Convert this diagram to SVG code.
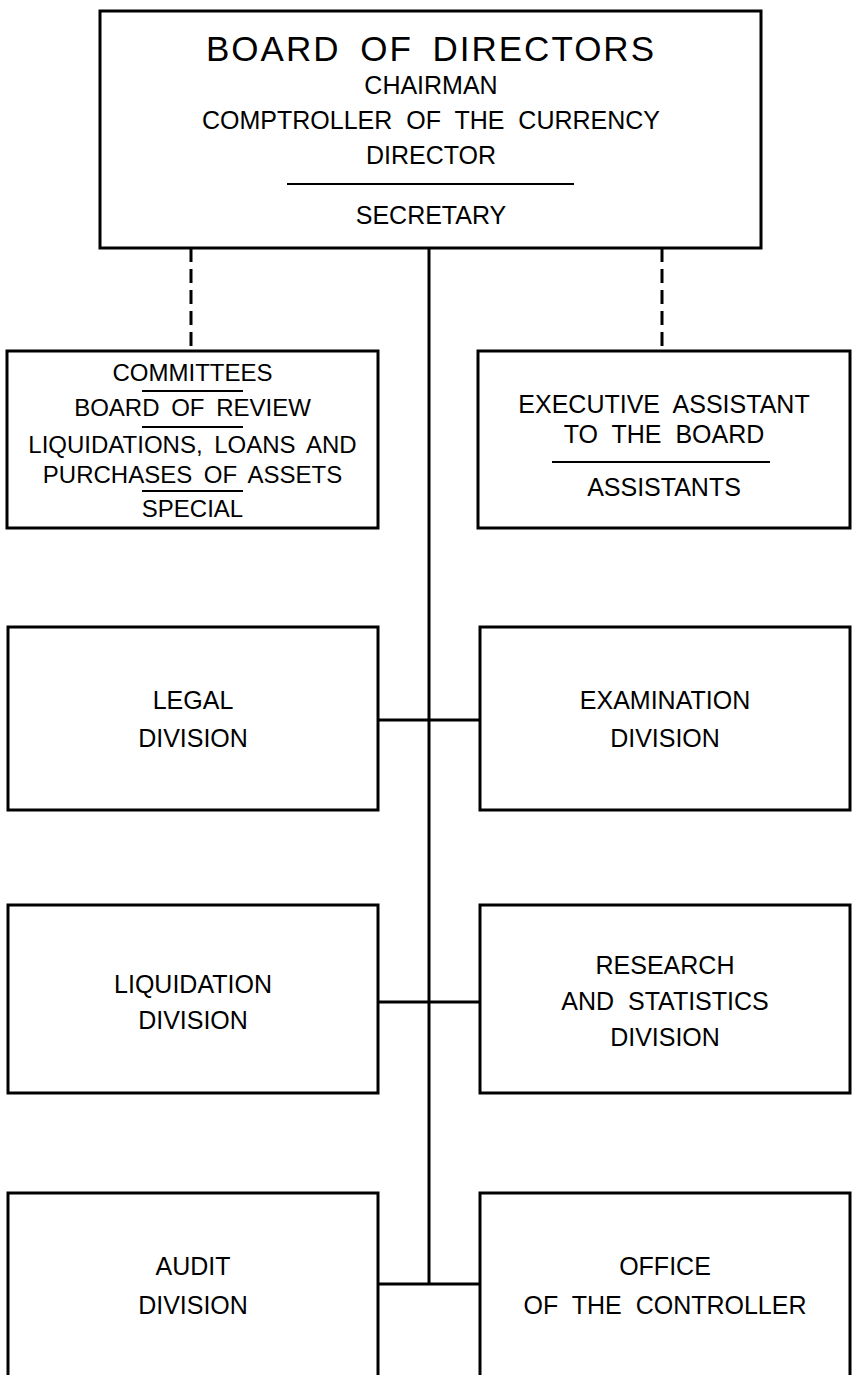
<svg xmlns="http://www.w3.org/2000/svg" width="853" height="1375" viewBox="0 0 853 1375">
<style>
.box{fill:#fff;stroke:#000;stroke-width:3}
.t{font-family:"Liberation Sans",Arial,sans-serif;font-size:25px;fill:#000;text-anchor:middle;word-spacing:7px}
.s{font-size:24px;word-spacing:5px}
.big{font-size:35px;letter-spacing:2px;word-spacing:8px}
.rule{stroke:#000;stroke-width:2}
.conn{stroke:#000;stroke-width:3;fill:none}
.dash{stroke:#000;stroke-width:3;fill:none;stroke-dasharray:14 7}
</style>
<rect width="853" height="1375" fill="#fff"/>
<g id="connectors">
<line class="conn" x1="429" y1="248" x2="429" y2="1284"/>
<line class="dash" x1="191" y1="248" x2="191" y2="351"/>
<line class="dash" x1="662" y1="248" x2="662" y2="351"/>
<line class="conn" x1="378" y1="720" x2="480" y2="720"/>
<line class="conn" x1="378" y1="1002" x2="480" y2="1002"/>
<line class="conn" x1="378" y1="1284" x2="480" y2="1284"/>
</g>
<g id="board">
<rect class="box" x="100" y="11" width="661" height="237"/>
<text class="t big" x="431" y="61">BOARD OF DIRECTORS</text>
<text class="t" x="431" y="94">CHAIRMAN</text>
<text class="t" x="431" y="129">COMPTROLLER OF THE CURRENCY</text>
<text class="t" x="431" y="164">DIRECTOR</text>
<line class="rule" x1="287" y1="184" x2="574" y2="184"/>
<text class="t" x="431" y="224">SECRETARY</text>
</g>
<g id="committees">
<rect class="box" x="7" y="351" width="371" height="177"/>
<text class="t s" x="192.5" y="381">COMMITTEES</text>
<line class="rule" x1="142" y1="391" x2="243" y2="391"/>
<text class="t s" x="192.5" y="416">BOARD OF REVIEW</text>
<line class="rule" x1="142" y1="427" x2="243" y2="427"/>
<text class="t s" x="192.5" y="453">LIQUIDATIONS, LOANS AND</text>
<text class="t s" x="192.5" y="483">PURCHASES OF ASSETS</text>
<line class="rule" x1="142" y1="491" x2="243" y2="491"/>
<text class="t s" x="192.5" y="517">SPECIAL</text>
</g>
<g id="exec-assistant">
<rect class="box" x="478" y="351" width="372" height="177"/>
<text class="t" x="664" y="413">EXECUTIVE ASSISTANT</text>
<text class="t" x="664" y="443">TO THE BOARD</text>
<line class="rule" x1="552" y1="462" x2="770" y2="462"/>
<text class="t" x="664" y="496">ASSISTANTS</text>
</g>
<g id="legal">
<rect class="box" x="8" y="627" width="370" height="183"/>
<text class="t" x="193" y="709">LEGAL</text>
<text class="t" x="193" y="747">DIVISION</text>
</g>
<g id="examination">
<rect class="box" x="480" y="627" width="370" height="183"/>
<text class="t" x="665" y="709">EXAMINATION</text>
<text class="t" x="665" y="747">DIVISION</text>
</g>
<g id="liquidation">
<rect class="box" x="8" y="905" width="370" height="188"/>
<text class="t" x="193" y="993">LIQUIDATION</text>
<text class="t" x="193" y="1029">DIVISION</text>
</g>
<g id="research">
<rect class="box" x="480" y="905" width="370" height="188"/>
<text class="t" x="665" y="974">RESEARCH</text>
<text class="t" x="665" y="1010">AND STATISTICS</text>
<text class="t" x="665" y="1046">DIVISION</text>
</g>
<g id="audit">
<rect class="box" x="8" y="1193" width="370" height="190"/>
<text class="t" x="193" y="1275">AUDIT</text>
<text class="t" x="193" y="1314">DIVISION</text>
</g>
<g id="controller">
<rect class="box" x="480" y="1193" width="370" height="190"/>
<text class="t" x="665" y="1275">OFFICE</text>
<text class="t" x="665" y="1314">OF THE CONTROLLER</text>
</g>
</svg>
